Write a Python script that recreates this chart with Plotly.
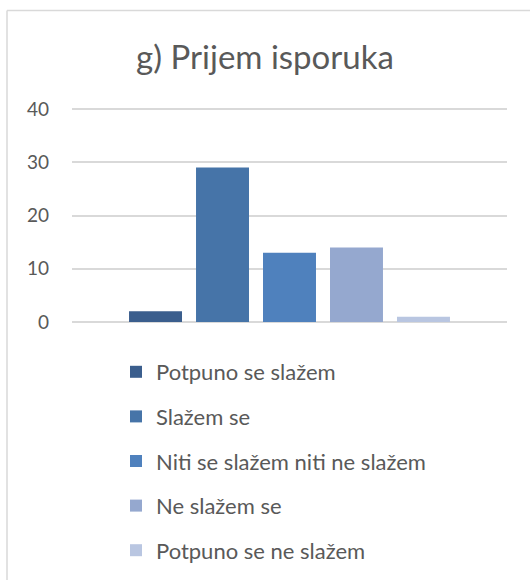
import plotly.graph_objects as go

categories = ["Potpuno se slažem", "Slažem se", "Niti se slažem niti ne slažem",
              "Ne slažem se", "Potpuno se ne slažem"]
values = [2, 29, 13, 14, 1]
colors = ["#3B5E8D", "#4674A8", "#4F81BD", "#95A8CF", "#B9C6E1"]
tick_vals = [0, 10, 20, 30, 40]
title_text = "g) Prijem isporuka"

W, H = 530, 580
L, R, T, B = 72, 23, 108, 258
pw, ph = W - L - R, H - T - B
y_max = 40.2

def px_x(p):
    return (p - L) / pw

def px_y(p):
    return (H - B - p) / ph

fig = go.Figure()
for i, (name, v) in enumerate(zip(categories, values)):
    fig.add_trace(go.Bar(
        x=["g"], y=[v], name=name, marker=dict(color=colors[i], line=dict(width=0)),
        legendgroup=str(i), hoverinfo="y+name",
    ))

font_family = "Lato, 'Open Sans', sans-serif"
fig.update_layout(
    width=W, height=H,
    margin=dict(l=L, r=R, t=T, b=B, autoexpand=False),
    paper_bgcolor="white", plot_bgcolor="white",
    barmode="group", bargap=0.23, bargroupgap=0.209,
    font=dict(family=font_family, color="#595959"),
    title=dict(text=title_text, x=0.5, xref="container", xanchor="center",
               y=1 - 57 / H, yref="container", yanchor="middle",
               font=dict(size=33, color="#595959", family=font_family)),
    showlegend=True,
    legend=dict(
        x=px_x(116), xanchor="left", y=px_y(351), yanchor="top",
        traceorder="grouped", tracegroupgap=13,
        font=dict(size=22, color="#595959", family=font_family),
        bgcolor="rgba(0,0,0,0)", itemclick=False,
    ),
    xaxis=dict(showticklabels=False, showgrid=False, zeroline=False, showline=False,
               ticks=""),
    yaxis=dict(range=[0, y_max], tickvals=tick_vals, showgrid=True, gridcolor="#D9D9D9",
               gridwidth=1.5, zeroline=True, zerolinecolor="#D9D9D9", zerolinewidth=1.5,
               showline=False, ticks="", ticklabelstandoff=22,
               tickfont=dict(size=19, color="#595959", family=font_family)),
    shapes=[
        dict(type="line", xref="paper", yref="paper", x0=px_x(7), x1=px_x(540),
             y0=px_y(10.5), y1=px_y(10.5), line=dict(color="#D9D9D9", width=1.5), layer="below"),
        dict(type="line", xref="paper", yref="paper", x0=px_x(7), x1=px_x(7),
             y0=px_y(10.5), y1=px_y(600), line=dict(color="#D9D9D9", width=1.5), layer="below"),
    ],
)

fig.write_html("out.html", config={"displayModeBar": False},
               post_script="document.body.style.margin='0';document.body.style.overflow='hidden';")
